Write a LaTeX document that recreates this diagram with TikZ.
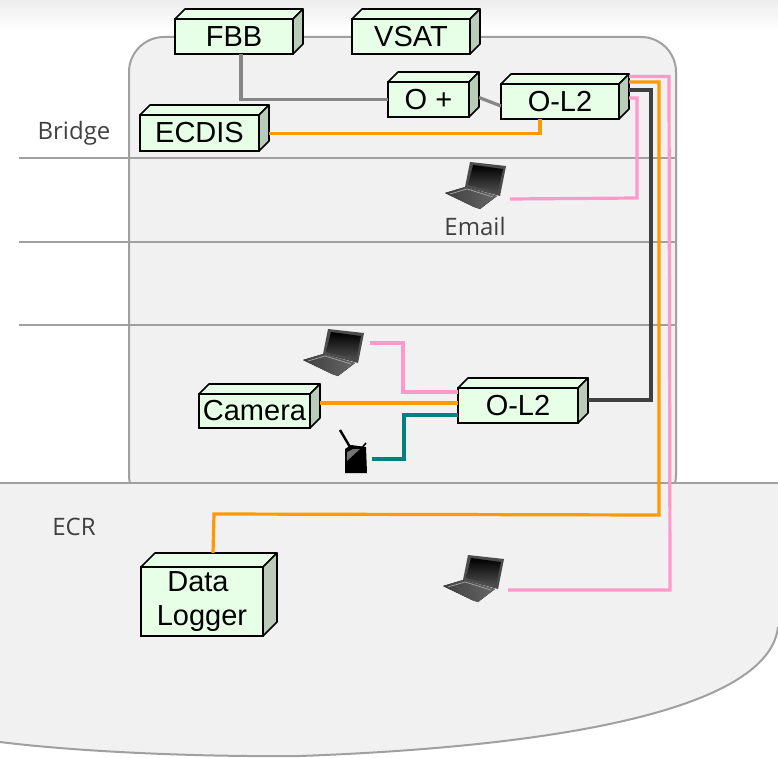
\documentclass[tikz,border=0pt]{standalone}
\usepackage{fontspec}
\setmainfont{Liberation Sans}
\newfontfamily\labelfont{Open Sans}
\definecolor{wallgray}{HTML}{A0A0A0}
\definecolor{roomfill}{HTML}{F1F1F1}
\definecolor{boxfront}{HTML}{E6FFE6}
\definecolor{boxside}{HTML}{B9CCB9}
\definecolor{linkgray}{HTML}{868686}
\definecolor{linkorange}{HTML}{FF9900}
\definecolor{linkpink}{HTML}{FF99CC}
\definecolor{linkdark}{HTML}{404040}
\definecolor{linkteal}{HTML}{008080}
\tikzset{
  wall/.style={draw=wallgray, line width=2pt},
  room/.style={wall, fill=roomfill},
  devbox/.style={draw=black, fill=boxfront, line width=1.6pt, inner sep=0pt, outer sep=0pt,
    anchor=north west, font=\fontsize{29}{35}\selectfont, align=center},
  devtop/.style={draw=black, fill=boxfront, line width=1.6pt, line join=round},
  devside/.style={draw=black, fill=boxside, line width=1.6pt, line join=round},
  iconbox/.style={inner sep=0pt, outer sep=0pt},
  roomlabel/.style={inner sep=0pt, text=linkdark, font=\labelfont\fontsize{24}{28}\selectfont},
  link/.style={line width=3.2pt, line join=miter},
  graylink/.style={link, draw=linkgray},
  orangelink/.style={link, draw=linkorange},
  pinklink/.style={link, draw=linkpink},
  darklink/.style={link, draw=linkdark},
  teallink/.style={link, draw=linkteal},
}
% name, depth, x, y, width, height, text
\newcommand{\devicebox}[7]{
  \node[devbox, minimum width=#5pt, minimum height=#6pt] (#1) at (#3,#4) {#7};
  \draw[devtop] (#1.north west) -- ++(#2,-#2) -- ++(#5,0) -- (#1.north east) -- cycle;
  \draw[devside] (#1.north east) -- ++(#2,-#2) -- ++(0,#6) -- (#1.south east) -- cycle;
}
\newcommand{\laptop}[3]{
  \begin{scope}[shift={(#2,#3)}]
    \node[iconbox, minimum width=65pt, minimum height=47pt] (#1) at (7.5,23.5) {};
    \fill[left color=black!75, right color=black!60] (-25,31) -- (-5,25) -- (27,34) -- (10,47) -- (4,45) -- cycle;
    \draw[black!35, line width=0.7pt] (-20,32) -- (-3,27) -- (23,35);
    \fill[black!70] (0,0) -- (36,4) -- (30,34) -- (-5,25) -- cycle;
    \shade[top color=black, bottom color=black!70] (3,3) -- (33,7) -- (28,30) -- (-2,23) -- cycle;
  \end{scope}
}
\begin{document}
\begin{tikzpicture}[x=1pt, y=-1pt]
  \useasboundingbox (0,0) rectangle (778,757);
  \shade[top color=black!7, bottom color=white] (0,0) rectangle (778,30);
  \draw[room, rounded corners=35pt] (129,37) rectangle (676,510);
  \draw[wall] (19,158) -- (676,158);
  \draw[wall] (19,242) -- (676,242);
  \draw[wall] (19,325) -- (676,325);
  \fill[roomfill] (0,483) -- (778,483) -- (778,627) .. controls (770,700) and (600,745) .. (300,756) .. controls (200,757) and (80,752) .. (0,742) -- cycle;
  \draw[wall] (0,483) -- (778,483);
  \draw[wall, line width=1pt] (778,483) -- (778,627);
  \draw[wall] (778,627) .. controls (770,700) and (600,745) .. (300,756) .. controls (200,757) and (80,752) .. (0,742);
  \node[roomlabel] (bridge) at (74,133) {Bridge};
  \node[roomlabel] (email) at (475,226) {Email};
  \node[roomlabel] (ecr) at (74,527) {ECR};

  \devicebox{fbb}{10}{175}{19}{118}{35}{FBB}
  \devicebox{vsat}{10}{352}{19}{118}{35}{VSAT}
  \devicebox{oplus}{10}{388}{82}{81}{35}{O +}
  \devicebox{oltop}{10}{501}{84}{118}{35}{O-L2}
  \devicebox{ecdis}{10}{140}{115}{119}{36}{ECDIS}
  \devicebox{camera}{10}{199}{394}{111}{34}{Camera}
  \devicebox{olbot}{10}{458}{388}{120}{35}{O-L2}
  \devicebox{logger}{14}{141}{567}{122}{69}{Data\kern8pt\\[-1pt]Logger}

  \laptop{lapmail}{470}{162}
  \laptop{lapcam}{328}{329}
  \laptop{lapecr}{468}{555}

  \begin{scope}
    \node[iconbox, minimum width=36pt, minimum height=44pt] (router) at (354,452) {};
    \draw[black, line width=2.4pt] (340,430) -- (350,447);
    \draw[black, line width=1.6pt] (366,443) -- (360,450);
    \fill[black] (345,449) -- (351,445) -- (366,447) -- (367,473) -- (345,473) -- cycle;
    \fill[black!55] (347,461) -- (360,449) -- (353,449) -- (347,452) -- cycle;
  \end{scope}

  \draw[graylink] ([xshift=7]fbb.south) |- (oplus.west);
  \draw[graylink] ([xshift=10,yshift=2]oplus.east) -- ([yshift=-4.5]oltop.west);
  \draw[orangelink] ([xshift=10,yshift=-0.5]ecdis.east) -| (oltop.south -| 540,119);
  \draw[pinklink] ([xshift=10,yshift=25]oltop.east) -- (669,76.5) -- (670,590) -- ([yshift=-11.5]lapecr.east);
  \draw[orangelink] ([xshift=10,yshift=19.5]oltop.east) -- (659,82) -- (659,515) -- (214,514) -- ([xshift=11,yshift=14]logger.north);
  \draw[darklink] ([xshift=10,yshift=11.5]oltop.east) -- (651,90) -- (651,400) -- ([xshift=10,yshift=5.5]olbot.east);
  \draw[pinklink] ([xshift=10,yshift=3.5]oltop.east) -- (637,98) -- (637,198) -- ([yshift=-13.5]lapmail.east);
  \draw[pinklink] ([xshift=2,yshift=9.5]lapcam.east) -- (403,343) -- (403,392) -- ([yshift=13.5]olbot.west);
  \draw[orangelink] ([xshift=10,yshift=8]camera.east) -- ([yshift=2.5]olbot.west);
  \draw[teallink] ([yshift=-7]router.east) -- (404,459) -- (404,415) -- ([yshift=-9.5]olbot.west);
\end{tikzpicture}
\end{document}
